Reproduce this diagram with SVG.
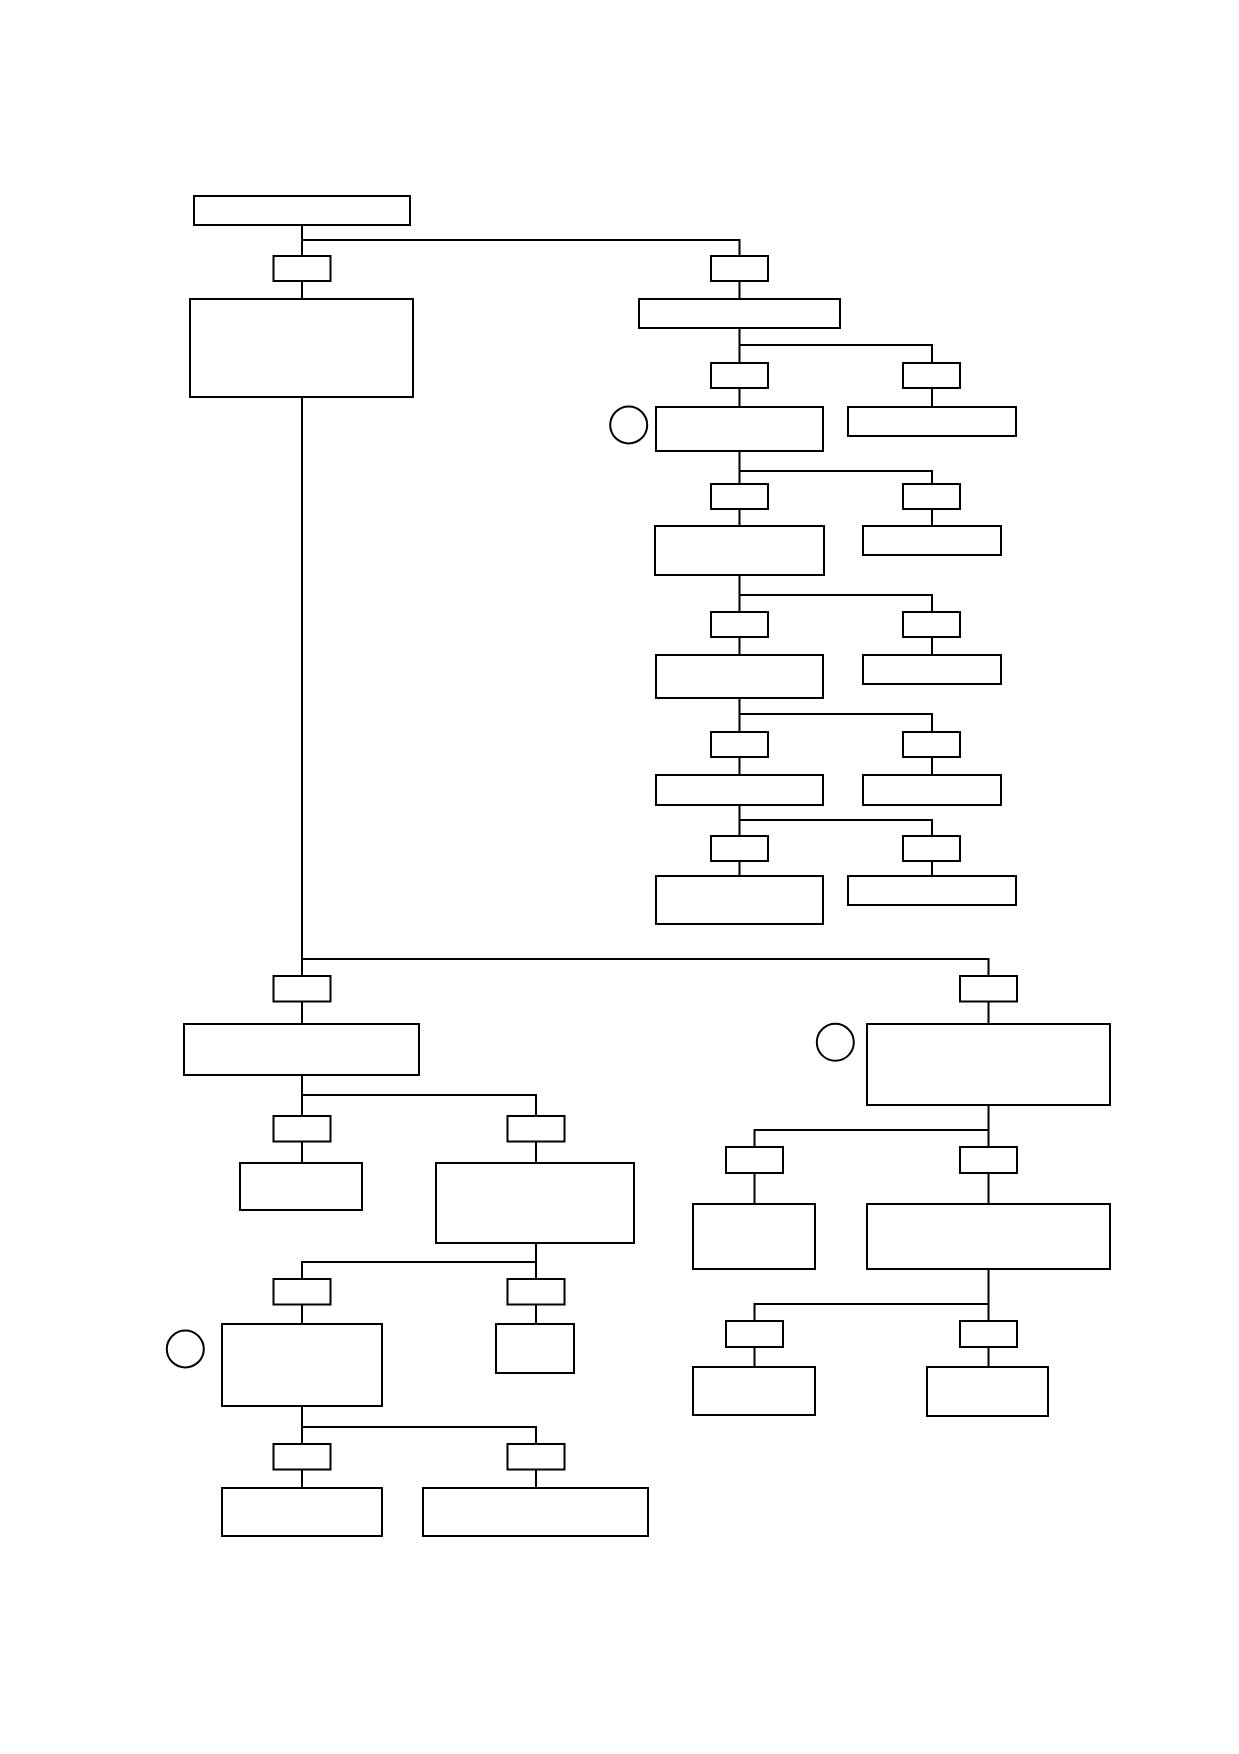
<svg xmlns="http://www.w3.org/2000/svg" width="1239" height="1754" viewBox="0 0 1239 1754">
<style>
.n{fill:#fff;stroke:#000;stroke-width:2}
.c{fill:none;stroke:#000;stroke-width:2}
.e{fill:none;stroke:#000;stroke-width:2}
</style>
<rect x="0" y="0" width="1239" height="1754" fill="#fff"/>
<g id="connectors">
<path class="c" d="M302 225V959M302 240H739.5V299M739.5 328V407M739.5 345H932V407"/>
<path class="c" d="M739.5 451V526M739.5 471H932V526"/>
<path class="c" d="M739.5 575V655M739.5 595H932V655"/>
<path class="c" d="M739.5 698V775M739.5 714H932V775"/>
<path class="c" d="M739.5 805V876M739.5 820H932V876"/>
<path class="c" d="M302 959H988.5V1024M302 959V1024"/>
<path class="c" d="M302 1075V1163M302 1095H536V1163"/>
<path class="c" d="M536 1243V1324M536 1262H302V1324"/>
<path class="c" d="M302 1406V1488M302 1427H536V1488"/>
<path class="c" d="M988.5 1105V1204M988.5 1130H754.5V1204"/>
<path class="c" d="M988.5 1269V1367M988.5 1304H754.5V1367"/>
</g>
<g id="n0"><rect class="n" x="194" y="196" width="216" height="29"/></g>
<g id="s1"><rect class="n" x="273.5" y="256" width="57" height="25"/></g>
<g id="n1"><rect class="n" x="190" y="299" width="223" height="98"/></g>
<g id="s2"><rect class="n" x="711" y="256" width="57" height="25"/></g>
<g id="n2"><rect class="n" x="639" y="299" width="201" height="29"/></g>
<g id="s3"><rect class="n" x="711" y="363" width="57" height="25"/></g>
<g id="s4"><rect class="n" x="903" y="363" width="57" height="25"/></g>
<g id="n3"><rect class="n" x="656" y="407" width="167" height="44"/></g>
<g id="k1"><circle class="e" cx="628.7" cy="425" r="18.5"/></g>
<g id="n4"><rect class="n" x="848" y="407" width="168" height="29"/></g>
<g id="s5"><rect class="n" x="711" y="484" width="57" height="25"/></g>
<g id="s6"><rect class="n" x="903" y="484" width="57" height="25"/></g>
<g id="n5"><rect class="n" x="655" y="526" width="169" height="49"/></g>
<g id="n6"><rect class="n" x="863" y="526" width="138" height="29"/></g>
<g id="s7"><rect class="n" x="711" y="612" width="57" height="25"/></g>
<g id="s8"><rect class="n" x="903" y="612" width="57" height="25"/></g>
<g id="n7"><rect class="n" x="656" y="655" width="167" height="43"/></g>
<g id="n8"><rect class="n" x="863" y="655" width="138" height="29"/></g>
<g id="s9"><rect class="n" x="711" y="732" width="57" height="25"/></g>
<g id="s10"><rect class="n" x="903" y="732" width="57" height="25"/></g>
<g id="n9"><rect class="n" x="656" y="775" width="167" height="30"/></g>
<g id="n10"><rect class="n" x="863" y="775" width="138" height="30"/></g>
<g id="s11"><rect class="n" x="711" y="836" width="57" height="25"/></g>
<g id="s12"><rect class="n" x="903" y="836" width="57" height="25"/></g>
<g id="n11"><rect class="n" x="656" y="876" width="167" height="48"/></g>
<g id="n12"><rect class="n" x="848" y="876" width="168" height="29"/></g>
<g id="s13"><rect class="n" x="273.5" y="976" width="57" height="25.5"/></g>
<g id="n13"><rect class="n" x="184" y="1024" width="235" height="51"/></g>
<g id="s14"><rect class="n" x="273.5" y="1116" width="57" height="25.5"/></g>
<g id="s15"><rect class="n" x="507.5" y="1116" width="57" height="25.5"/></g>
<g id="n14"><rect class="n" x="240" y="1163" width="122" height="47"/></g>
<g id="n15"><rect class="n" x="436" y="1163" width="198" height="80"/></g>
<g id="s16"><rect class="n" x="273.5" y="1279" width="57" height="25.5"/></g>
<g id="s17"><rect class="n" x="507.5" y="1279" width="57" height="25.5"/></g>
<g id="n16"><rect class="n" x="222" y="1324" width="160" height="82"/></g>
<g id="k2"><circle class="e" cx="185.3" cy="1349" r="18.5"/></g>
<g id="n17"><rect class="n" x="496" y="1324" width="78" height="49"/></g>
<g id="s18"><rect class="n" x="273.5" y="1444" width="57" height="25.5"/></g>
<g id="s19"><rect class="n" x="507.5" y="1444" width="57" height="25.5"/></g>
<g id="n18"><rect class="n" x="222" y="1488" width="160" height="48"/></g>
<g id="n19"><rect class="n" x="423" y="1488" width="225" height="48"/></g>
<g id="s20"><rect class="n" x="960" y="976" width="57" height="25.5"/></g>
<g id="n20"><rect class="n" x="867" y="1024" width="243" height="81"/></g>
<g id="k3"><circle class="e" cx="835.3" cy="1042.3" r="18.5"/></g>
<g id="s21"><rect class="n" x="726" y="1147" width="57" height="26"/></g>
<g id="s22"><rect class="n" x="960" y="1147" width="57" height="26"/></g>
<g id="n21"><rect class="n" x="693" y="1204" width="122" height="65"/></g>
<g id="n22"><rect class="n" x="867" y="1204" width="243" height="65"/></g>
<g id="s23"><rect class="n" x="726" y="1321" width="57" height="26"/></g>
<g id="s24"><rect class="n" x="960" y="1321" width="57" height="26"/></g>
<g id="n23"><rect class="n" x="693" y="1367" width="122" height="48"/></g>
<g id="n24"><rect class="n" x="927" y="1367" width="121" height="49"/></g>
</svg>
